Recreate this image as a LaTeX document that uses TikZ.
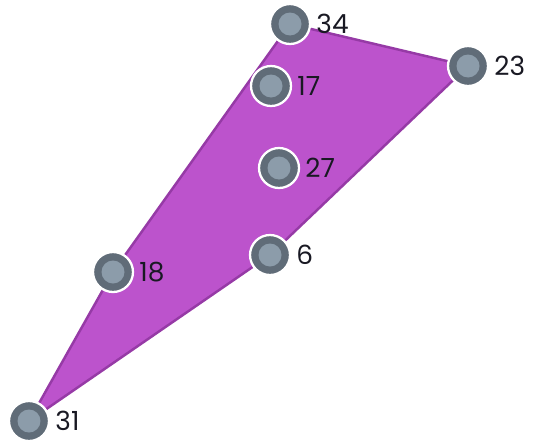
\documentclass[tikz,border=0pt]{standalone}
\usepackage{fontspec}
\setmainfont{Poppins}
\usepackage{tikz}

\definecolor{polyfill}{RGB}{188,83,204}
\definecolor{polyedge}{RGB}{150,58,166}
\definecolor{ptdark}{RGB}{96,108,120}
\definecolor{ptlight}{RGB}{140,156,170}
\definecolor{labeltext}{RGB}{25,25,35}

\begin{document}
\begin{tikzpicture}[
    x=0.02cm, y=-0.02cm,
    every node/.style={font=\fontsize{15}{18}\selectfont},
    point/.style={circle, draw=white, line width=1.3pt, fill=ptdark,
        minimum size=0.8cm, inner sep=0pt,
        path picture={\fill[ptlight] (path picture bounding box.center) circle (0.23cm);}},
    num/.style={anchor=west, inner sep=0pt, text=labeltext},
    region/.style={fill=polyfill, draw=polyedge, line width=1.4pt, line join=round}
]
\useasboundingbox (0,0) rectangle (533,443);

% positions
\coordinate (c34) at (290,24);
\coordinate (c23) at (468,66);
\coordinate (c17) at (271,86);
\coordinate (c27) at (279,168);
\coordinate (c6)  at (270,255);
\coordinate (c18) at (113,272);
\coordinate (c31) at (29,421);

\draw[region] (c34) -- (c23) -- (c6) -- (c31) -- (c18) -- cycle;

\node[point] (p34) at (c34) {};
\node[point] (p23) at (c23) {};
\node[point] (p17) at (c17) {};
\node[point] (p27) at (c27) {};
\node[point] (p6)  at (c6)  {};
\node[point] (p18) at (c18) {};
\node[point] (p31) at (c31) {};

\node[num] (l34) at ([xshift=0.1cm]p34.east) {34};
\node[num] (l23) at ([xshift=0.1cm]p23.east) {23};
\node[num] (l17) at ([xshift=0.1cm]p17.east) {17};
\node[num] (l27) at ([xshift=0.1cm]p27.east) {27};
\node[num] (l6)  at ([xshift=0.1cm]p6.east)  {6};
\node[num] (l18) at ([xshift=0.1cm]p18.east) {18};
\node[num] (l31) at ([xshift=0.1cm]p31.east) {31};

\end{tikzpicture}
\end{document}
